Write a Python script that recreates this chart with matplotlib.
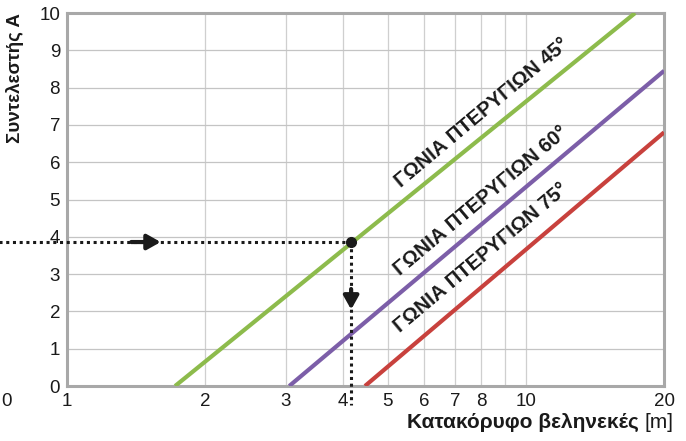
import numpy as np
import matplotlib.pyplot as plt

plt.rcParams['font.family'] = ['Liberation Sans', 'DejaVu Sans']

# straight lines on the log-x chart (end points)
green_x = [1.72, 17.3]
green_y = [0, 10]
purple_x = [3.05, 20]
purple_y = [0, 8.45]
red_x = [4.46, 20]
red_y = [0, 6.8]

labels = ['ΓΩΝΙΑ ΠΤΕΡΥΓΙΩΝ 45°', 'ΓΩΝΙΑ ΠΤΕΡΥΓΙΩΝ 60°', 'ΓΩΝΙΑ ΠΤΕΡΥΓΙΩΝ 75°']
label_x = [8.02, 7.98, 7.98]
label_y = [7.32, 4.96, 3.43]

# reading example
read_x = 4.16
read_y = 3.86

xticks = [1, 2, 3, 4, 5, 6, 7, 8, 10, 20]
xgrid = [2, 3, 4, 5, 6, 7, 8, 9, 10]

fig = plt.figure(figsize=(6.86, 4.41), dpi=100)
ax = fig.add_axes([0.0977, 0.1247, 0.8703, 0.8458])

ax.set_xscale('log')
ax.set_xlim(1, 20)
ax.set_ylim(0, 10)

for gx in xgrid:
    ax.axvline(gx, color='#cfcfcf', lw=0.9, zorder=0)
for gy in range(1, 10):
    ax.axhline(gy, color='#c4c4c4', lw=0.9, zorder=0)

ax.plot(green_x, green_y, color='#8dbb4c', lw=3, solid_capstyle='butt', zorder=3)
ax.plot(purple_x, purple_y, color='#7c5ea8', lw=3, solid_capstyle='butt', zorder=3)
ax.plot(red_x, red_y, color='#c8413d', lw=3, solid_capstyle='butt', zorder=3)

for t, lx, ly in zip(labels, label_x, label_y):
    ax.text(lx, ly, t, rotation=40, ha='center', va='center', fontsize=14.5,
            fontweight='bold', color='#1a1a1a', rotation_mode='anchor')

# dotted reading lines
ax.plot([0.70, read_x], [read_y, read_y], color='#1a1a1a', lw=2.2,
        linestyle=(0, (1, 1.2)), clip_on=False, zorder=4)
ax.plot([read_x, read_x], [read_y, -0.5], color='#1a1a1a', lw=2.2,
        linestyle=(0, (1, 1.2)), clip_on=False, zorder=4)
ax.plot(read_x, read_y, 'o', color='#1a1a1a', ms=7, zorder=5)
ax.annotate('', xy=(1.60, read_y), xytext=(1.38, read_y),
            arrowprops=dict(arrowstyle='-|>,head_length=0.8,head_width=0.45',
                            lw=3, color='#1a1a1a', shrinkA=0, shrinkB=0), zorder=5)
ax.annotate('', xy=(read_x, 2.05), xytext=(read_x, 2.6),
            arrowprops=dict(arrowstyle='-|>,head_length=0.8,head_width=0.45',
                            lw=3, color='#1a1a1a', shrinkA=0, shrinkB=0), zorder=5)

ax.set_xticks(xticks)
ax.set_xticklabels([str(v) for v in xticks])
ax.xaxis.set_minor_locator(plt.NullLocator())
ax.set_yticks(range(0, 11))
ax.tick_params(axis='both', length=0, labelsize=13.5, colors='#1a1a1a')
ax.tick_params(axis='x', pad=5)
ax.tick_params(axis='y', pad=5)
ax.annotate('0', xy=(0.738, 0), xycoords=('data', 'axes fraction'), xytext=(0, -5),
            textcoords='offset points', ha='center', va='top', fontsize=13.5,
            color='#1a1a1a', annotation_clip=False)

for s in ax.spines.values():
    s.set_color('#a8a8a8')
    s.set_linewidth(2.2)

# axis titles
fig.text(0.022, 0.97, 'Συντελεστής Α', rotation=90, ha='center', va='top',
         fontsize=13.5, fontweight='bold', color='#1a1a1a')
t_m = fig.text(0.982, 0.02, '[m]', ha='right', va='bottom', fontsize=15, color='#1a1a1a')
ax.annotate('Κατακόρυφο βεληνεκές ', xy=(0, 0), xycoords=t_m, ha='right', va='bottom',
            fontsize=15, fontweight='bold', color='#1a1a1a', annotation_clip=False)

fig.savefig('out.png', dpi=100)
